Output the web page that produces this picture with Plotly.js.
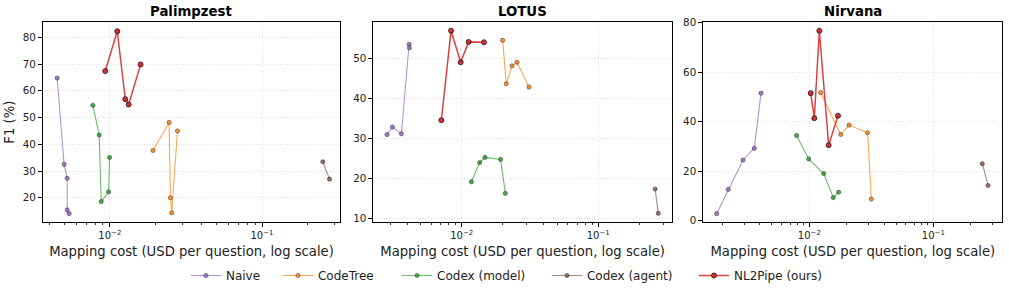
<!DOCTYPE html>
<html>
<head>
<meta charset="utf-8">
<script src="https://cdn.plot.ly/plotly-3.0.1.min.js"></script>
<style>
  html, body { margin: 0; padding: 0; background: #fff; }
  #chart { width: 1009px; height: 290px; }
</style>
</head>
<body>
<div id="chart"></div>
<script>
// Method names, in legend order
const methods = ["Naive", "CodeTree", "Codex (model)", "Codex (agent)", "NL2Pipe (ours)"];
const panelTitles = ["Palimpzest", "LOTUS", "Nirvana"];

// Palimpzest: mapping cost (USD/question) and F1 (%)
const palNaiveX = [0.0045, 0.0050, 0.00524, 0.00524, 0.0054];
const palNaiveY = [64.8, 32.5, 27.3, 15.5, 14.1];
const palCodeTreeX = [0.0192, 0.0245, 0.0250, 0.0255, 0.0278];
const palCodeTreeY = [37.7, 48.2, 20.0, 14.4, 45.0];
const palModelX = [0.00773, 0.0085, 0.00877, 0.0098, 0.00995];
const palModelY = [54.6, 43.5, 18.6, 22.2, 35.1];
const palAgentX = [0.251, 0.278];
const palAgentY = [33.5, 27.0];
const palOursX = [0.00932, 0.01118, 0.01262, 0.01328, 0.01592];
const palOursY = [67.4, 82.3, 56.9, 54.9, 69.9];

// LOTUS
const lotNaiveX = [0.00284, 0.00311, 0.00362, 0.00412, 0.00414];
const lotNaiveY = [30.9, 32.8, 31.1, 53.5, 52.6];
const lotCodeTreeX = [0.01995, 0.0212, 0.02335, 0.0254, 0.0311];
const lotCodeTreeY = [54.5, 43.6, 48.1, 49.0, 42.8];
const lotModelX = [0.01177, 0.01354, 0.01481, 0.01928, 0.02087];
const lotModelY = [19.1, 23.9, 25.2, 24.7, 16.2];
const lotAgentX = [0.261, 0.275];
const lotAgentY = [17.3, 11.2];
const lotOursX = [0.0071, 0.00836, 0.00983, 0.01125, 0.01457];
const lotOursY = [34.5, 56.9, 49.0, 54.1, 54.0];

// Nirvana
const nirNaiveX = [0.00179, 0.00222, 0.00292, 0.0036, 0.00408];
const nirNaiveY = [2.9, 12.7, 24.6, 29.3, 51.6];
const nirCodeTreeX = [0.01234, 0.01789, 0.0209, 0.0295, 0.0316];
const nirCodeTreeY = [51.8, 34.9, 38.7, 35.6, 8.8];
const nirModelX = [0.0079, 0.00988, 0.01305, 0.0156, 0.01724];
const nirModelY = [34.5, 25.0, 19.1, 9.4, 11.6];
const nirAgentX = [0.248, 0.276];
const nirAgentY = [23.1, 14.3];
const nirOursX = [0.01025, 0.01097, 0.01204, 0.01432, 0.01703];
const nirOursY = [51.6, 41.5, 76.8, 30.6, 42.5];

// Tick values and labels
const xTickVals = [0.01, 0.1];
const xTickText = ["10<sup>\u22122</sup>", "10<sup>\u22121</sup>"];
const palYTicks = [20, 30, 40, 50, 60, 70, 80];
const lotYTicks = [10, 20, 30, 40, 50];
const nirYTicks = [0, 20, 40, 60, 80];

const panels = [
  { series: [[palNaiveX, palNaiveY], [palCodeTreeX, palCodeTreeY], [palModelX, palModelY], [palAgentX, palAgentY], [palOursX, palOursY]],
    yticks: palYTicks, xr: [-2.44, -0.487], yr: [10.8, 85.8], dom: [0.0426, 0.337] },
  { series: [[lotNaiveX, lotNaiveY], [lotCodeTreeX, lotCodeTreeY], [lotModelX, lotModelY], [lotAgentX, lotAgentY], [lotOursX, lotOursY]],
    yticks: lotYTicks, xr: [-2.647, -0.46], yr: [8.93, 59.1], dom: [0.370, 0.666] },
  { series: [[nirNaiveX, nirNaiveY], [nirCodeTreeX, nirCodeTreeY], [nirModelX, nirModelY], [nirAgentX, nirAgentY], [nirOursX, nirOursY]],
    yticks: nirYTicks, xr: [-2.855, -0.444], yr: [-0.64, 80.4], dom: [0.697, 0.9934] }
];

// tab10-style colours
const colors = ["#9467bd", "#ff7f0e", "#2ca02c", "#8c564b", "#d62728"];
function rgba(hex, a) {
  const n = parseInt(hex.slice(1), 16);
  return `rgba(${(n >> 16) & 255},${(n >> 8) & 255},${n & 255},${a})`;
}

// one small legend per method so each entry sits at its own spot on the bottom row
const legendX = [0.1843, 0.2755, 0.3935, 0.5421, 0.6878];

const FONT = "DejaVu Sans, sans-serif";
const traces = [];
const layout = {
  width: 1009, height: 290,
  margin: { l: 0, r: 0, t: 0, b: 0 },
  paper_bgcolor: "#fff", plot_bgcolor: "#fff",
  font: { family: FONT, color: "#000", size: 10 },
  showlegend: true,
  annotations: []
};
methods.forEach((m, k) => {
  const key = k === 0 ? "legend" : "legend" + (k + 1);
  layout[key] = {
    orientation: "h", x: legendX[k], xanchor: "left", y: 0.0424, yanchor: "middle",
    font: { family: FONT, size: 12, color: "#222" },
    bgcolor: "rgba(0,0,0,0)", borderwidth: 0
  };
});

const y0 = 0.2276, y1 = 0.924;
const gridStyle = { showgrid: true, gridcolor: "#d9d9d9", griddash: "1px,1.6px", gridwidth: 0.8 };

panels.forEach((p, i) => {
  const ax = i === 0 ? "" : String(i + 1);
  p.series.forEach((s, k) => {
    const ours = k === 4;
    traces.push({
      type: "scatter", mode: "lines+markers",
      x: s[0], y: s[1],
      xaxis: "x" + ax, yaxis: "y" + ax,
      name: methods[k], showlegend: i === 0,
      legend: k === 0 ? "legend" : "legend" + (k + 1),
      line: { color: rgba(colors[k], ours ? 0.88 : 0.7), width: ours ? 1.5 : 1.1 },
      marker: {
        size: ours ? 5 : 4.2,
        color: rgba(colors[k], ours ? 0.95 : 0.85),
        line: { color: ours ? "rgba(20,20,20,0.85)" : "rgba(40,40,40,0.7)", width: ours ? 0.9 : 0.7 }
      },
      hoverinfo: "x+y+name"
    });
  });

  layout["xaxis" + ax] = Object.assign({
    type: "log", domain: p.dom, range: p.xr, anchor: "y" + ax,
    tickvals: xTickVals, ticktext: xTickText,
    ticks: "outside", ticklen: 4, tickwidth: 1, tickcolor: "#000",
    minor: { ticks: "outside", ticklen: 2, tickwidth: 0.8, tickcolor: "#000", dtick: "D1", showgrid: false },
    showline: true, mirror: true, linecolor: "#000", linewidth: 1,
    zeroline: false, tickfont: { family: FONT, size: 10, color: "#222" },
    title: { text: "Mapping cost (USD per question, log scale)", font: { family: FONT, size: 13.2, color: "#222" }, standoff: 6 }
  }, gridStyle);
  const yax = Object.assign({
    domain: [y0, y1], range: p.yr, anchor: "x" + ax,
    tickvals: p.yticks,
    ticks: "outside", ticklen: 4, tickwidth: 1, tickcolor: "#000",
    showline: true, mirror: true, linecolor: "#000", linewidth: 1,
    zeroline: false, tickfont: { family: FONT, size: 10.3, color: "#222" }
  }, gridStyle);
  if (i === 0) {
    yax.title = { text: "F1 (%)", font: { family: FONT, size: 13.2, color: "#222" }, standoff: 5 };
  }
  layout["yaxis" + ax] = yax;

  layout.annotations.push({
    xref: "paper", yref: "paper",
    x: (p.dom[0] + p.dom[1]) / 2, y: 0.9586,
    xanchor: "center", yanchor: "middle", showarrow: false,
    text: "<b>" + panelTitles[i] + "</b>",
    font: { family: FONT, size: 13.3, color: "#000" }
  });
});

Plotly.newPlot("chart", traces, layout, { displayModeBar: false, staticPlot: true });
</script>
</body>
</html>
